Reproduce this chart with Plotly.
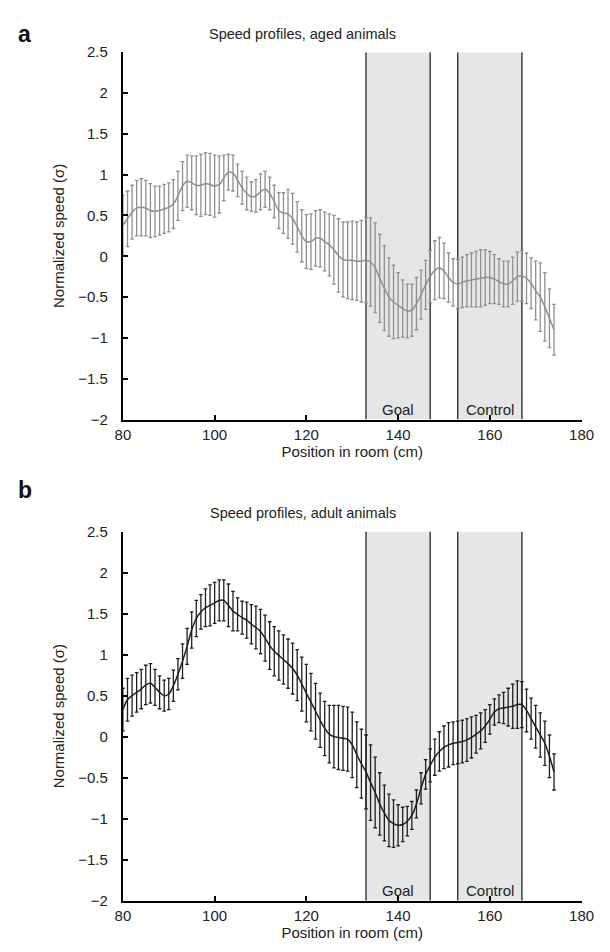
import plotly.graph_objects as go

# Position along the room (cm), one sample per centimetre
position_cm = list(range(80, 175))

# Aged animals: mean normalized speed and error
aged_mean = [
    0.38, 0.46, 0.54, 0.59, 0.60, 0.59, 0.56, 0.55, 0.56, 0.58,
    0.60, 0.64, 0.74, 0.86, 0.92, 0.90, 0.87, 0.87, 0.89, 0.88,
    0.86, 0.88, 0.96, 1.03, 1.02, 0.93, 0.84, 0.77, 0.73, 0.74,
    0.79, 0.82, 0.77, 0.67, 0.56, 0.53, 0.52, 0.46, 0.36, 0.25,
    0.18, 0.18, 0.22, 0.22, 0.18, 0.14, 0.08, 0.01, -0.04, -0.05,
    -0.05, -0.06, -0.06, -0.05, -0.07, -0.14, -0.27, -0.39, -0.50, -0.56,
    -0.60, -0.64, -0.67, -0.66, -0.58, -0.47, -0.35, -0.25, -0.17, -0.14,
    -0.18, -0.26, -0.32, -0.34, -0.32, -0.30, -0.29, -0.28, -0.27, -0.26,
    -0.26, -0.28, -0.31, -0.34, -0.34, -0.30, -0.25, -0.24, -0.27, -0.33,
    -0.42, -0.50, -0.62, -0.76, -0.90,
]
aged_err = [
    0.37, 0.34, 0.33, 0.34, 0.35, 0.34, 0.33, 0.31, 0.30, 0.30,
    0.30, 0.30, 0.30, 0.30, 0.32, 0.33, 0.36, 0.38, 0.38, 0.38,
    0.38, 0.35, 0.28, 0.22, 0.22, 0.20, 0.20, 0.20, 0.18, 0.20,
    0.22, 0.22, 0.20, 0.20, 0.22, 0.25, 0.30, 0.31, 0.31, 0.32,
    0.33, 0.34, 0.34, 0.35, 0.36, 0.38, 0.42, 0.45, 0.46, 0.47,
    0.48, 0.48, 0.50, 0.52, 0.54, 0.55, 0.54, 0.52, 0.48, 0.45,
    0.40, 0.35, 0.33, 0.32, 0.32, 0.30, 0.30, 0.32, 0.36, 0.37,
    0.34, 0.30, 0.29, 0.30, 0.31, 0.32, 0.33, 0.34, 0.35, 0.34,
    0.32, 0.30, 0.28, 0.28, 0.28, 0.29, 0.30, 0.31, 0.31, 0.31,
    0.36, 0.42, 0.42, 0.36, 0.31,
]

# Adult animals: mean normalized speed and error
adult_mean = [
    0.33, 0.45, 0.50, 0.54, 0.58, 0.63, 0.65, 0.60, 0.54, 0.50,
    0.52, 0.62, 0.76, 0.92, 1.10, 1.30, 1.44, 1.52, 1.57, 1.60,
    1.63, 1.66, 1.66, 1.60, 1.53, 1.49, 1.45, 1.42, 1.37, 1.33,
    1.28, 1.20, 1.11, 1.04, 0.99, 0.94, 0.89, 0.83, 0.75, 0.64,
    0.53, 0.42, 0.31, 0.20, 0.10, 0.03, 0.00, -0.01, -0.02, -0.03,
    -0.10, -0.22, -0.33, -0.43, -0.56, -0.68, -0.82, -0.93, -1.02, -1.06,
    -1.08, -1.07, -1.03, -0.96, -0.82, -0.63, -0.46, -0.35, -0.25, -0.18,
    -0.13, -0.10, -0.08, -0.07, -0.06, -0.04, -0.01, 0.03, 0.07, 0.13,
    0.21, 0.30, 0.34, 0.35, 0.36, 0.37, 0.39, 0.39, 0.32, 0.22,
    0.12, 0.02, -0.08, -0.24, -0.43,
]
adult_err = [
    0.26, 0.26, 0.25, 0.24, 0.24, 0.24, 0.24, 0.22, 0.20, 0.19,
    0.19, 0.19, 0.19, 0.21, 0.22, 0.22, 0.22, 0.21, 0.23, 0.25,
    0.25, 0.25, 0.25, 0.26, 0.24, 0.20, 0.20, 0.22, 0.24, 0.26,
    0.27, 0.28, 0.29, 0.30, 0.30, 0.30, 0.30, 0.31, 0.31, 0.33,
    0.35, 0.35, 0.34, 0.33, 0.33, 0.35, 0.38, 0.39, 0.39, 0.39,
    0.40, 0.40, 0.42, 0.45, 0.46, 0.43, 0.38, 0.34, 0.32, 0.29,
    0.25, 0.21, 0.18, 0.17, 0.17, 0.19, 0.18, 0.20, 0.22, 0.24,
    0.26, 0.27, 0.26, 0.26, 0.26, 0.26, 0.25, 0.23, 0.22, 0.20,
    0.18, 0.16, 0.17, 0.19, 0.23, 0.27, 0.29, 0.28, 0.26, 0.25,
    0.26, 0.27, 0.27, 0.26, 0.22,
]

# Zones in the room (cm)
zone_names = ["Goal", "Control"]
zone_start = [133, 153]
zone_end = [147, 167]

# Axis ticks
x_ticks = [80, 100, 120, 140, 160, 180]
y_ticks = [-2, -1.5, -1, -0.5, 0, 0.5, 1, 1.5, 2, 2.5]
y_ticklabels = ["\u22122", "\u22121.5", "\u22121", "\u22120.5", "0",
                "0.5", "1", "1.5", "2", "2.5"]

panel_titles = ["Speed profiles, aged animals", "Speed profiles, adult animals"]
panel_letters = ["a", "b"]

FONT = "Liberation Sans, Arial, Helvetica, sans-serif"
W, H = 610, 952

# Plot-area geometry in pixels (left, right, top, bottom)
px_left, px_right = 119, 594
panels_px = [(44, 418), (532, 908)]


def py(v):
    return 1 - v / H


fig = go.Figure()

series = [
    (aged_mean, aged_err, "#8f8f8f"),
    (adult_mean, adult_err, "#1e1e1e"),
]

for i, (mean, err, color) in enumerate(series):
    ax = "" if i == 0 else str(i + 1)
    fig.add_trace(go.Scatter(
        x=position_cm, y=mean,
        mode="lines",
        line=dict(color=color, width=1.5, shape="spline", smoothing=1.0),
        error_y=dict(type="data", array=err, visible=True,
                     color=color, thickness=1.3, width=1.8),
        xaxis="x" + ax, yaxis="y" + ax,
        showlegend=False, hoverinfo="skip",
    ))

shapes = []
annotations = []
for i in range(2):
    ax = "" if i == 0 else str(i + 1)
    xref, yref = "x" + ax, "y" + ax
    for name, x0, x1 in zip(zone_names, zone_start, zone_end):
        shapes.append(dict(type="rect", xref=xref, yref=yref,
                           x0=x0, x1=x1, y0=-2, y1=2.5,
                           fillcolor="#e5e6e8", line=dict(width=0),
                           layer="below"))
        for xe in (x0, x1):
            shapes.append(dict(type="line", xref=xref, yref=yref,
                               x0=xe, x1=xe, y0=-2, y1=2.5,
                               line=dict(color="#333333", width=1.4),
                               layer="below"))
        annotations.append(dict(text=name, xref=xref, yref=yref,
                                x=(x0 + x1) / 2, y=-2, yanchor="bottom",
                                yshift=0, showarrow=False,
                                font=dict(family=FONT, size=15, color="#222")))

    top, bottom = panels_px[i]
    # panel title
    annotations.append(dict(text=panel_titles[i], xref="paper", yref="paper",
                            x=0.5, y=py(top - 19), xanchor="center", yanchor="middle",
                            showarrow=False,
                            font=dict(family=FONT, size=14.5, color="#222")))
    # panel letter
    annotations.append(dict(text="<b>%s</b>" % panel_letters[i], xref="paper", yref="paper",
                            x=py(0) * 0 + 8 / W, y=py(top - 19 if i == 0 else top - 42),
                            xanchor="left", yanchor="middle", showarrow=False,
                            font=dict(family=FONT, size=23, color="#111")))

    axis_common = dict(showline=True, linecolor="black", linewidth=2,
                       ticks="inside", ticklen=5, tickwidth=1.5, tickcolor="black",
                       showgrid=False, zeroline=False,
                       tickfont=dict(family=FONT, size=15, color="#222"))
    fig.layout["xaxis" + ax] = dict(
        axis_common,
        domain=[px_left / W, px_right / W],
        range=[80, 180], tickvals=x_ticks,
        anchor="y" + ax,
        title=dict(text="Position in room (cm)", standoff=4,
                   font=dict(family=FONT, size=15, color="#222")),
    )
    fig.layout["yaxis" + ax] = dict(
        axis_common,
        domain=[py(bottom), py(top)],
        range=[-2, 2.5], tickvals=y_ticks, ticktext=y_ticklabels,
        anchor="x" + ax, ticklabelstandoff=10,
        title=dict(text="Normalized speed (\u03c3)", standoff=10,
                   font=dict(family=FONT, size=15, color="#222")),
    )

fig.update_layout(
    width=W, height=H,
    margin=dict(l=0, r=0, t=0, b=0),
    paper_bgcolor="white", plot_bgcolor="white",
    shapes=shapes, annotations=annotations,
    font=dict(family=FONT, color="#222"),
)

fig.write_html("out.html")
